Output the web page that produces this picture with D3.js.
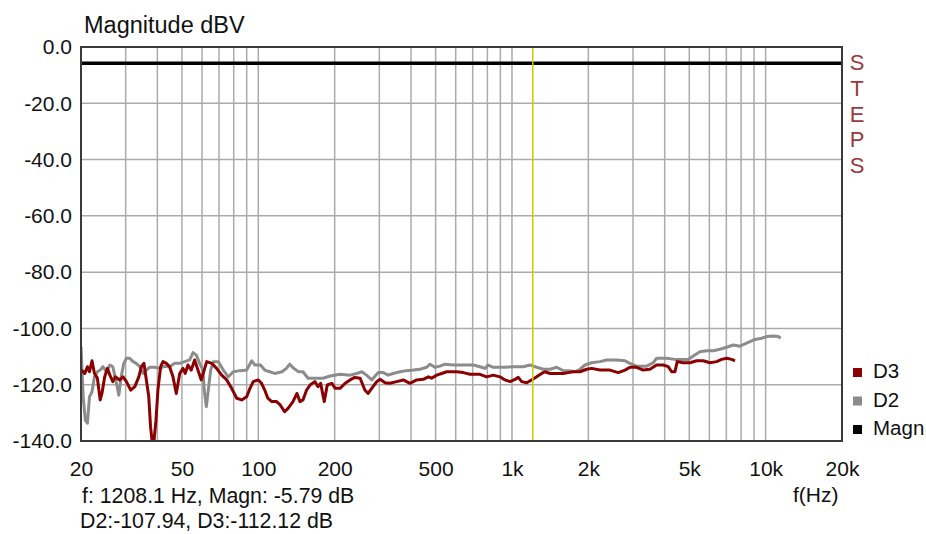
<!DOCTYPE html>
<html>
<head>
<meta charset="utf-8">
<script src="https://cdn.jsdelivr.net/npm/d3@7"></script>
<style>
  body { margin: 0; background: #fff; }
  svg { display: block; font-family: "Liberation Sans", Arial, sans-serif; }
</style>
</head>
<body>
<div id="svg-container"></div>
<script>
// data
const xTicks = [20, 50, 100, 200, 500, 1000, 2000, 5000, 10000, 20000];
const xTickLabels = ["20", "50", "100", "200", "500", "1k", "2k", "5k", "10k", "20k"];
const yTicks = [0, -20, -40, -60, -80, -100, -120, -140];

const cursorFreq = 1208.1;
const magnLevel = -5.79;

// D3 (dark red): [frequency Hz, dBV]
const d3Data = [
  [20.1, -114.8], [20.7, -116], [21.2, -113.6], [21.6, -115.4], [22.1, -111.5], [22.6, -116],
  [23.2, -117.6], [23.8, -125.4], [24.2, -123], [24.8, -117.2], [25.4, -114.2], [26.0, -116.6],
  [26.7, -118.9], [27.3, -117.2], [28.4, -118.3], [29.3, -117.2], [30.2, -118.9], [31.4, -121.9],
  [32.6, -120.7], [33.8, -117.2], [34.6, -113.6], [35.4, -112.4], [36.2, -118.3], [37.0, -124.3],
  [37.6, -134.9], [38.1, -139.7], [38.8, -140], [39.5, -132.6], [40.2, -121.9], [41.2, -113.6],
  [42.1, -111.8], [43.4, -112.4], [44.7, -113.6], [46.1, -117.2], [47.5, -123.1], [49.0, -116],
  [50.5, -114.2], [51.5, -116], [52.8, -113], [54.4, -114.8], [56.1, -111.2], [57.8, -114.8],
  [59.6, -118.3], [62.6, -111.8], [65.5, -112.4], [68.5, -114.2], [71.7, -116.6], [75.1, -118.3],
  [78.5, -121.3], [82.2, -124.8], [86.0, -125.4], [90.0, -124.3], [92.7, -121.3], [95.5, -118.9],
  [100, -118.3], [103, -119.5], [106, -121.9], [109, -124.8], [113, -126], [118, -126],
  [122, -127.2], [127, -129.6], [131, -128.4], [137, -126], [142, -123.1], [146, -126],
  [150, -125.4], [155, -121.9], [160, -120.1], [167, -118.9], [172, -120.7], [176, -119.5],
  [182, -126], [187, -120.1], [195, -119.5], [201, -121.3], [210, -121.3], [220, -119.5],
  [230, -118.3], [240, -117.4], [252, -117.7], [263, -121.9], [271, -123.1], [280, -121.3],
  [293, -118.9], [302, -118.1], [316, -119.3], [330, -119.5], [351, -118.9], [373, -118.3],
  [396, -119.5], [421, -118.3], [447, -118.1], [468, -117.2], [482, -117.7], [505, -116.6],
  [528, -116], [553, -115.4], [605, -115.4], [643, -115.7], [683, -116.3], [748, -116.3],
  [795, -117.2], [844, -116.6], [897, -117.2], [938, -118.3], [982, -118.9], [1028, -118.1],
  [1059, -117.4], [1092, -118.9], [1143, -119.3], [1196, -118.3], [1251, -117.2], [1309, -116],
  [1349, -115.4], [1412, -116], [1500, -116], [1593, -116], [1667, -115.7], [1744, -115.4],
  [1854, -115.4], [1970, -114.5], [2061, -114.2], [2223, -114.8], [2433, -114.8], [2624, -115.7],
  [2789, -114.8], [2918, -113.8], [3100, -113.8], [3292, -114.8], [3498, -114.5], [3717, -113],
  [3948, -113], [4130, -113.6], [4260, -115.4], [4390, -115.4], [4482, -111.8], [4733, -112.2],
  [5030, -112.2], [5345, -111.5], [5677, -111.5], [6033, -112.2], [6410, -111.8], [6708, -111],
  [7020, -110.6], [7346, -111], [7571, -111.5]
];

// D2 (gray): [frequency Hz, dBV]
const d2Data = [
  [20, -106.5], [20.4, -124.3], [20.8, -132.6], [21.2, -133.7], [21.6, -124.3], [22.1, -122.5],
  [22.6, -117.2], [23.2, -115.4], [23.8, -114.8], [24.4, -113.6], [25.2, -115.4], [26.0, -113],
  [26.7, -113.6], [27.6, -119.5], [28.2, -123.7], [28.8, -117.2], [29.5, -112.4], [30.2, -110.6],
  [31.1, -110.6], [32.1, -111.8], [33.0, -112.4], [34.1, -113.6], [35.1, -116], [36.2, -114.8],
  [37.3, -113.8], [39.0, -113.8], [40.9, -114.2], [42.7, -113.4], [44.7, -113.6], [46.8, -112.4],
  [49.0, -112.4], [51.3, -111.8], [53.6, -111.2], [55.3, -108.6], [57.0, -109.5], [58.7, -112.4],
  [60.5, -114.8], [61.2, -121.9], [62.4, -127.8], [63.5, -121.9], [64.9, -114.8], [66.5, -111.8],
  [69.5, -111.8], [72.8, -114.8], [76.1, -117.2], [79.7, -115.4], [84.7, -115], [90.0, -114.8],
  [94.2, -111.5], [97.0, -113], [102, -113], [106, -114.8], [111, -115.4], [116, -116],
  [124, -115.4], [129, -114.2], [133, -112.7], [138, -114.2], [144, -115.4], [150, -115.4],
  [157, -117.7], [167, -117.7], [180, -117.7], [192, -116.9], [210, -116.3], [230, -116.6],
  [244, -116], [256, -115.4], [267, -116.6], [280, -118.3], [297, -115.7], [311, -115.7],
  [325, -116.6], [340, -116], [362, -115.4], [384, -115], [408, -114.8], [434, -114.5],
  [461, -113.8], [475, -112.7], [497, -113.8], [520, -113.4], [544, -112.7], [587, -113],
  [643, -113], [704, -113], [748, -113.6], [783, -114.2], [806, -113], [844, -113.8],
  [924, -113.8], [1012, -113.6], [1108, -113.6], [1178, -113], [1251, -113.8], [1328, -114.5],
  [1412, -114.5], [1500, -113.8], [1593, -115], [1682, -115], [1771, -115.4], [1854, -114.5],
  [1939, -113], [2061, -112.2], [2223, -111.8], [2362, -111.2], [2587, -111.2], [2789, -111.5],
  [2918, -112.4], [3100, -113.4], [3395, -113.4], [3606, -112.2], [3717, -110.6], [4071, -110.6],
  [4390, -111], [4953, -111], [5183, -109.8], [5508, -108.3], [5853, -107.9], [6216, -107.9],
  [6605, -107.4], [7020, -106.7], [7454, -105.9], [7920, -106.3], [8288, -105.5], [8673, -104.7],
  [9076, -103.9], [9645, -103.5], [10093, -102.9], [10716, -102.7], [11214, -102.9], [11462, -103.5]
];

const magnData = [[20, magnLevel], [20000, magnLevel]];

const legendItems = [
  { name: "D3", color: "#8b0000" },
  { name: "D2", color: "#8c8c8c" },
  { name: "Magn", color: "#000000" }
];

////////////////////////////////////////////////////////////////////
////////////////////////////  Init  ///////////////////////////////
const width = 926;
const height = 534;
const margin = { top: 47, right: 84, bottom: 93, left: 81 };

const svg = d3.select("#svg-container").append("svg")
  .attr("width", width)
  .attr("height", height);

// scale
const xScale = d3.scaleLog().domain([20, 20000]).range([margin.left, width - margin.right]);
const yScale = d3.scaleLinear().domain([-140, 0]).range([height - margin.bottom, margin.top]);

// grid lines: every decade step 20..90, 100..900, ...
const gridFreqs = [];
[10, 100, 1000, 10000].forEach((dec) => {
  for (let i = 1; i <= 9; i++) {
    const f = dec * i;
    if (f >= 20 && f <= 20000) gridFreqs.push(f);
  }
});
gridFreqs.push(20000);

const grid = svg.append("g").attr("stroke", "#ababab").attr("stroke-width", 1.5);
grid.selectAll("line.v")
  .data(gridFreqs)
  .join("line")
  .attr("class", "v")
  .attr("x1", (d) => xScale(d))
  .attr("x2", (d) => xScale(d))
  .attr("y1", margin.top)
  .attr("y2", height - margin.bottom);
grid.selectAll("line.h")
  .data(yTicks)
  .join("line")
  .attr("class", "h")
  .attr("x1", margin.left)
  .attr("x2", width - margin.right)
  .attr("y1", (d) => yScale(d))
  .attr("y2", (d) => yScale(d));

// clip
svg.append("clipPath").attr("id", "plot-clip")
  .append("rect")
  .attr("x", margin.left)
  .attr("y", margin.top)
  .attr("width", width - margin.left - margin.right)
  .attr("height", height - margin.top - margin.bottom);

const line = d3.line()
  .x((d) => xScale(d[0]))
  .y((d) => yScale(d[1]));

const plot = svg.append("g").attr("clip-path", "url(#plot-clip)");

plot.append("path")
  .datum(magnData)
  .attr("d", line)
  .attr("fill", "none")
  .attr("stroke", "#000")
  .attr("stroke-width", 3.5);

plot.append("path")
  .datum(d2Data)
  .attr("d", line)
  .attr("fill", "none")
  .attr("stroke", "#8c8c8c")
  .attr("stroke-width", 3)
  .attr("stroke-linejoin", "round");

plot.append("path")
  .datum(d3Data)
  .attr("d", line)
  .attr("fill", "none")
  .attr("stroke", "#8b0000")
  .attr("stroke-width", 3)
  .attr("stroke-linejoin", "round");

// cursor
plot.append("line")
  .attr("x1", xScale(cursorFreq))
  .attr("x2", xScale(cursorFreq))
  .attr("y1", margin.top)
  .attr("y2", height - margin.bottom)
  .attr("stroke", "#cccc00")
  .attr("stroke-width", 1.5);

// frame
svg.append("rect")
  .attr("x", margin.left)
  .attr("y", margin.top)
  .attr("width", width - margin.left - margin.right)
  .attr("height", height - margin.top - margin.bottom)
  .attr("fill", "none")
  .attr("stroke", "#3a3a3a")
  .attr("stroke-width", 2);

// axes (labels only)
const xAxis = d3.axisBottom(xScale)
  .tickValues(xTicks)
  .tickFormat((d, i) => xTickLabels[i])
  .tickSize(0)
  .tickPadding(20);
svg.append("g")
  .attr("transform", `translate(0,${height - margin.bottom})`)
  .call(xAxis)
  .call((g) => g.select(".domain").remove())
  .selectAll("text")
  .attr("font-size", 21)
  .attr("font-family", "Liberation Sans, Arial, sans-serif")
  .attr("fill", "#111");

const yAxis = d3.axisLeft(yScale)
  .tickValues(yTicks)
  .tickFormat(d3.format(".1f"))
  .tickSize(0)
  .tickPadding(9);
svg.append("g")
  .attr("transform", `translate(${margin.left},0)`)
  .call(yAxis)
  .call((g) => g.select(".domain").remove())
  .selectAll("text")
  .attr("font-size", 21)
  .attr("font-family", "Liberation Sans, Arial, sans-serif")
  .attr("fill", "#111")
  .text((d) => d3.format(".1f")(d).replace("−", "-"));

// title
svg.append("text")
  .attr("x", 84)
  .attr("y", 33)
  .attr("font-size", 23.5)
  .attr("fill", "#111")
  .text("Magnitude dBV");

// STEPS vertical label
svg.append("g")
  .selectAll("text")
  .data("STEPS".split(""))
  .join("text")
  .attr("x", 857)
  .attr("y", (d, i) => 70 + i * 25.8)
  .attr("text-anchor", "middle")
  .attr("font-size", 22)
  .attr("fill", "#9a3a40")
  .text((d) => d);

// legend
const legend = svg.append("g")
  .selectAll("g")
  .data(legendItems)
  .join("g")
  .attr("transform", (d, i) => `translate(853,${368 + i * 28.5})`);
legend.append("rect")
  .attr("width", 9)
  .attr("height", 9)
  .attr("fill", (d) => d.color);
legend.append("text")
  .attr("x", 20)
  .attr("y", 10)
  .attr("font-size", 20.5)
  .attr("fill", "#111")
  .text((d) => d.name);

// readout text
svg.append("text")
  .attr("x", 82)
  .attr("y", 503)
  .attr("font-size", 21.3)
  .attr("fill", "#111")
  .text("f: 1208.1 Hz, Magn: -5.79 dB");
svg.append("text")
  .attr("x", 80)
  .attr("y", 528)
  .attr("font-size", 21.3)
  .attr("fill", "#111")
  .text("D2:-107.94, D3:-112.12 dB");
svg.append("text")
  .attr("x", 793)
  .attr("y", 502)
  .attr("font-size", 21)
  .attr("fill", "#111")
  .text("f(Hz)");
</script>
</body>
</html>
